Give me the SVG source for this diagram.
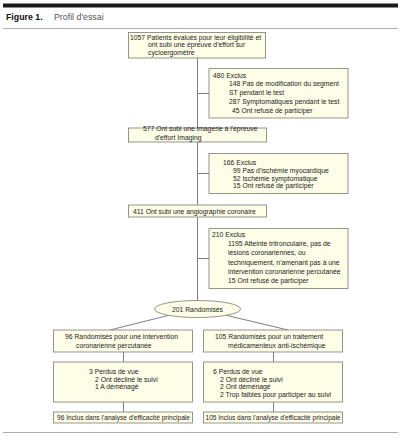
<svg xmlns="http://www.w3.org/2000/svg" width="405" height="440" viewBox="0 0 405 440">
<style>
.bx{fill:#fefee8;stroke:#8a8a80;stroke-width:0.9}
.t{font-family:"Liberation Sans",Arial,sans-serif;font-size:6.8px;fill:#222}
.c{stroke:#808080;stroke-width:1;fill:none}
</style>
<rect x="0" y="0" width="405" height="440" fill="#ffffff"/>
<rect x="3" y="3.5" width="395" height="4" fill="#1a1a1a"/>
<text x="6" y="20" font-family="'Liberation Sans',Arial,sans-serif" font-size="8.8" font-weight="bold" fill="#111">Figure 1.</text>
<text x="54" y="20" font-family="'Liberation Sans',Arial,sans-serif" font-size="8.8" fill="#555">Profil d'essai</text>
<line x1="3" y1="28.5" x2="398" y2="28.5" stroke="#999" stroke-width="0.8"/>
<line x1="3" y1="432.5" x2="398" y2="432.5" stroke="#999" stroke-width="0.8"/>
<g id="connectors">
<line class="c" x1="197.5" y1="58" x2="197.5" y2="128"/>
<line class="c" x1="197.5" y1="93.5" x2="209" y2="93.5"/>
<line class="c" x1="197.5" y1="142" x2="197.5" y2="205"/>
<line class="c" x1="197.5" y1="173.5" x2="209" y2="173.5"/>
<line class="c" x1="197.5" y1="217" x2="197.5" y2="301"/>
<line class="c" x1="197.5" y1="258.5" x2="209" y2="258.5"/>
<line class="c" x1="170" y1="315" x2="110" y2="330"/>
<line class="c" x1="225" y1="315" x2="288" y2="330"/>
<line class="c" x1="123.5" y1="352" x2="123.5" y2="362"/>
<line class="c" x1="273.5" y1="352" x2="273.5" y2="362"/>
<line class="c" x1="123.5" y1="402" x2="123.5" y2="412"/>
<line class="c" x1="273.5" y1="402" x2="273.5" y2="412"/>
</g>
<g id="n1057">
<rect class="bx" x="128.5" y="32.5" width="137" height="25.5"/>
<text class="t" x="130" y="39.5">1057 Patients évalués pour leur éligibilité et</text>
<text class="t" x="148" y="47.3">ont subi une épreuve d'effort sur</text>
<text class="t" x="148" y="55">cycloergomètre</text>
</g>
<g id="ex480">
<rect class="bx" x="209" y="68.5" width="139" height="49.5"/>
<text class="t" x="213" y="77.5">480 Exclus</text>
<text class="t" x="229" y="86">148 Pas de modification du segment</text>
<text class="t" x="229" y="95">ST pendant le test</text>
<text class="t" x="229" y="104">287 Symptomatiques pendant le test</text>
<text class="t" x="232" y="113">45 Ont refusé de participer</text>
</g>
<g id="n577">
<rect class="bx" x="128.5" y="128" width="138" height="14"/>
<text class="t" x="143" y="131">577 Ont subi une imagerie à l'épreuve</text>
<text class="t" x="155" y="140">d'effort Imaging</text>
</g>
<g id="ex166">
<rect class="bx" x="209" y="153.5" width="139" height="40"/>
<text class="t" x="223" y="165">166 Exclus</text>
<text class="t" x="233" y="173">99 Pas d'ischémie myocardique</text>
<text class="t" x="233" y="180.5">52 Ischémie symptomatique</text>
<text class="t" x="233" y="188">15 Ont refusé de participer</text>
</g>
<g id="n411">
<rect class="bx" x="128.5" y="205" width="138" height="12"/>
<text class="t" x="133" y="213.5">411 Ont subi une angiographie coronaire</text>
</g>
<g id="ex210">
<rect class="bx" x="209" y="228.5" width="139" height="60"/>
<text class="t" x="212" y="237">210 Exclus</text>
<text class="t" x="228" y="246">1195 Atteinte tritronculaire, pas de</text>
<text class="t" x="228" y="255">lésions coronariennes, ou</text>
<text class="t" x="228" y="264.5">techniquement, n'amenant pas à une</text>
<text class="t" x="228" y="273.5">intervention coronarienne percutanée</text>
<text class="t" x="228" y="283">15 Ont refusé de participer</text>
</g>
<g id="rand">
<ellipse cx="197.5" cy="309" rx="43" ry="8.5" fill="#fefee8" stroke="#8a8a80" stroke-width="0.9"/>
<text class="t" x="197.5" y="311.5" text-anchor="middle">201 Randomisés</text>
</g>
<g id="pci">
<rect class="bx" x="53.5" y="330" width="139" height="22"/>
<text class="t" x="65" y="338.5">96 Randomisés pour une intervention</text>
<text class="t" x="76" y="347.5">coronarienne percutanée</text>
</g>
<g id="med">
<rect class="bx" x="203.5" y="330" width="139" height="22"/>
<text class="t" x="215" y="338.5">105 Randomisés pour un traitement</text>
<text class="t" x="228" y="347.5">médicamenteux anti-ischémique</text>
</g>
<g id="lost3">
<rect class="bx" x="53.5" y="362" width="139" height="40"/>
<text class="t" x="89" y="374">3 Perdus de vue</text>
<text class="t" x="95" y="381.5">2 Ont décliné le suivi</text>
<text class="t" x="95" y="389">1 A déménagé</text>
</g>
<g id="lost6">
<rect class="bx" x="203.5" y="362" width="139" height="40"/>
<text class="t" x="213" y="374">6 Perdus de vue</text>
<text class="t" x="220" y="381.5">2 Ont décliné le suivi</text>
<text class="t" x="220" y="389">2 Ont déménagé</text>
<text class="t" x="220" y="397">2 Trop faibles pour participer au suivi</text>
</g>
<g id="inc96">
<rect class="bx" x="53.5" y="412" width="139" height="11"/>
<text class="t" x="57" y="419.5" textLength="133" lengthAdjust="spacingAndGlyphs">96 Inclus dans l'analyse d'efficacité principale</text>
</g>
<g id="inc105">
<rect class="bx" x="203.5" y="412" width="139" height="11"/>
<text class="t" x="205.5" y="419.5" textLength="135" lengthAdjust="spacingAndGlyphs">105 Inclus dans l'analyse d'efficacité principale</text>
</g>
</svg>
